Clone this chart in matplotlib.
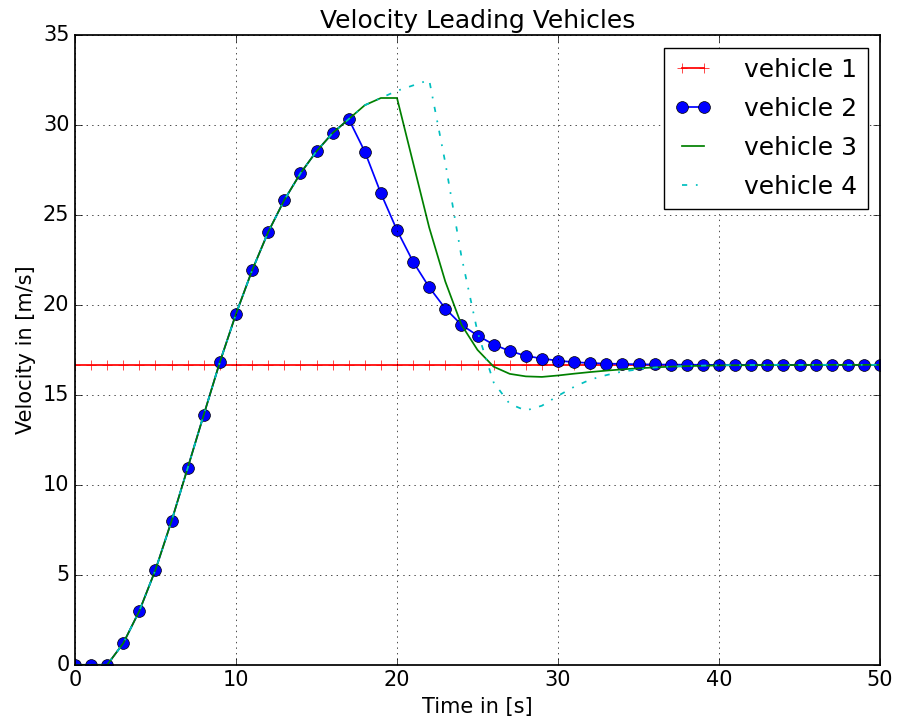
import matplotlib
matplotlib.use('Agg')
import matplotlib.pyplot as plt

plt.style.use('classic')
plt.rcParams['font.family'] = 'DejaVu Sans'
plt.rcParams['lines.linewidth'] = 1.25
plt.rcParams['axes.linewidth'] = 1.25
plt.rcParams['xtick.major.size'] = 5
plt.rcParams['ytick.major.size'] = 5

# time steps [s]
time = list(range(51))

# common acceleration phase, t = 0 .. 17
accel = [0.0, 0.0, 0.0, 1.2, 3.0, 5.28, 8.0, 10.94, 13.9, 16.83,
         19.5, 21.92, 24.05, 25.83, 27.31, 28.54, 29.55, 30.33]

v1 = [16.67] * 51
v2 = accel + [28.52, 26.2, 24.15, 22.4, 20.98, 19.8, 18.9, 18.3, 17.8, 17.44,
              17.17, 17.02, 16.9, 16.82, 16.77, 16.74, 16.72, 16.7, 16.69, 16.68,
              16.68, 16.67, 16.67, 16.67, 16.67, 16.67, 16.67, 16.67, 16.67, 16.67,
              16.67, 16.67, 16.67]
v3 = accel + [31.1, 31.5, 31.5, 27.9, 24.3, 21.3, 18.9, 17.5, 16.57, 16.17,
              16.03, 16.0, 16.08, 16.18, 16.27, 16.35, 16.42, 16.48, 16.53, 16.57,
              16.6, 16.62, 16.64, 16.65, 16.65, 16.66, 16.66, 16.66, 16.67, 16.67,
              16.67, 16.67, 16.67]
v4 = accel + [31.1, 31.5, 31.9, 32.2, 32.5, 27.9, 22.7, 18.5, 15.7, 14.5,
              14.13, 14.4, 14.95, 15.45, 15.85, 16.1, 16.3, 16.42, 16.52, 16.58,
              16.61, 16.63, 16.65, 16.66, 16.66, 16.67, 16.67, 16.67, 16.67, 16.67,
              16.67, 16.67, 16.67]

fig = plt.figure(figsize=(8.98, 7.25), dpi=100, facecolor='white')
ax = fig.add_axes([0.0835, 0.083, 0.8965, 0.8687])

ax.plot(time, v1, 'r-+', markersize=7.5, label='vehicle 1')
ax.plot(time, v2, 'b-o', markersize=8.5, label='vehicle 2')
ax.plot(time, v3, 'g-', label='vehicle 3')
ax.plot(time, v4, 'c', linestyle=(0, (3.75, 6.25, 1.25, 6.25)), label='vehicle 4')

ax.set_xlim(0, 50)
ax.set_ylim(0, 35)
ax.set_xticks([0, 10, 20, 30, 40, 50])
ax.set_yticks([0, 5, 10, 15, 20, 25, 30, 35])
ax.tick_params(labelsize=15)
ax.grid(True)

ax.set_title('Velocity Leading Vehicles', fontsize=18)
ax.set_xlabel('Time in [s]', fontsize=15)
ax.set_ylabel('Velocity in [m/s]', fontsize=15)
ax.legend(loc='upper right', fontsize=18, handlelength=1.5,
          handletextpad=1.3, labelspacing=0.6)

fig.savefig('out.png', dpi=100, facecolor='white')
